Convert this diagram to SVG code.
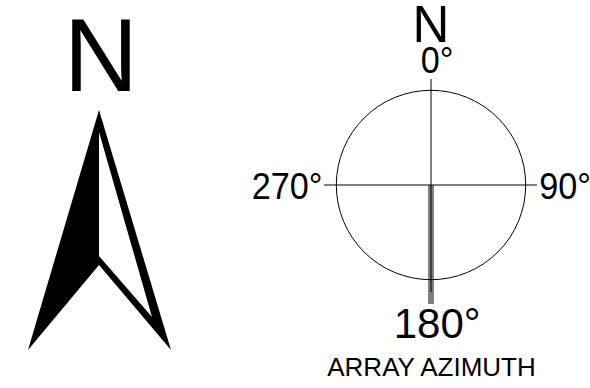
<svg xmlns="http://www.w3.org/2000/svg" width="590" height="388" viewBox="0 0 590 388">
<style>
text{font-family:"Liberation Sans",Arial,sans-serif;fill:#000;text-anchor:middle}
.l{fill:none;stroke:#000;stroke-width:1}
</style>
<rect width="590" height="388" fill="#fff"/>
<g id="north-arrow">
<text x="101" y="91" font-size="103">N</text>
<path fill-rule="evenodd" d="M99 110L171 350L99 265L28 350ZM99 132V256L152 317Z"/>
</g>
<g id="azimuth-dial">
<rect x="428" y="185" width="6" height="119" fill="#808080"/>
<circle class="l" cx="431" cy="185" r="94.7"/>
<path class="l" d="M431 79V292M324 185H537" stroke="#333"/>
<text x="431" y="42" font-size="51">N</text>
<text transform="translate(437 73) scale(.95 1)" font-size="36">0°</text>
<text transform="translate(287 199) scale(.95 1)" font-size="36">270°</text>
<text transform="translate(565 199) scale(.95 1)" font-size="36">90°</text>
<text x="437.2" y="338" font-size="42">180°</text>
<text x="431.5" y="376" font-size="26">ARRAY AZIMUTH</text>
</g>
</svg>
